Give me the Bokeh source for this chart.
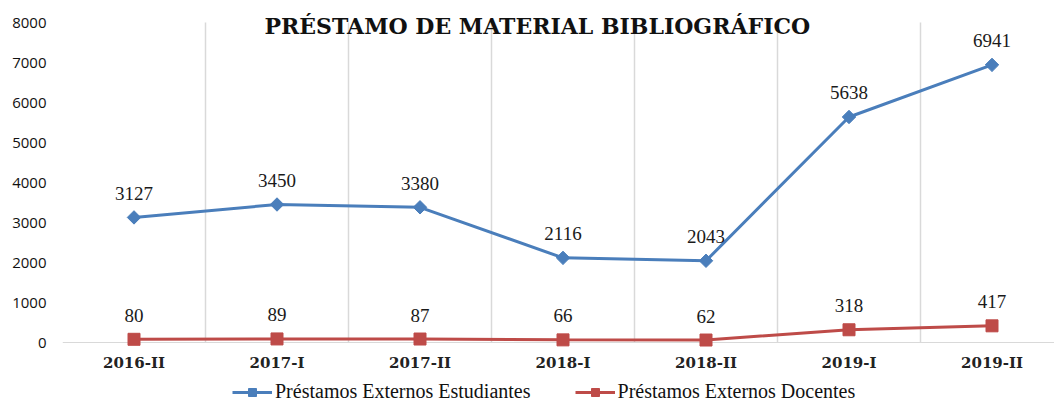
from bokeh.plotting import figure
from bokeh.models import (ColumnDataSource, Range1d, FixedTicker, Label, Legend,
                          LegendItem)
from bokeh.core.properties import value
from bokeh.embed import file_html
from bokeh.resources import INLINE
import numpy as np

categories = ["2016-II", "2017-I", "2017-II", "2018-I", "2018-II", "2019-I", "2019-II"]
estudiantes = [3127, 3450, 3380, 2116, 2043, 5638, 6941]
docentes = [80, 89, 87, 66, 62, 318, 417]
y_ticks = [0, 1000, 2000, 3000, 4000, 5000, 6000, 7000, 8000]
title_text = "PRÉSTAMO DE MATERIAL BIBLIOGRÁFICO"
series_names = ["Préstamos Externos Estudiantes", "Préstamos Externos Docentes"]

BLUE = "#4a7ebb"
RED = "#be4b48"
GRID = "#d9d9d9"

xpos = list(np.arange(len(categories)) + 0.5)

src_e = ColumnDataSource(dict(x=xpos, y=estudiantes, t=[str(v) for v in estudiantes]))
src_d = ColumnDataSource(dict(x=xpos, y=docentes, t=[str(v) for v in docentes]))
src_c = ColumnDataSource(dict(x=xpos, y=[y_ticks[0]] * len(categories), t=categories))

p = figure(width=1054, height=403, output_backend="svg", toolbar_location=None,
           x_range=Range1d(0, 6.937), y_range=Range1d(-1525, 8550),
           min_border_left=62, min_border_right=0, min_border_top=0,
           min_border_bottom=0)
p.outline_line_color = None
p.background_fill_color = "white"
p.border_fill_color = "white"

# x axis drawn as a baseline grid line plus category texts
p.xaxis.visible = False

p.yaxis.ticker = FixedTicker(ticks=y_ticks)
p.yaxis.major_tick_line_color = None
p.yaxis.minor_tick_line_color = None
p.yaxis.axis_line_color = None
p.yaxis.major_label_text_font = "Open Sans"
p.yaxis.major_label_text_font_size = "15px"
p.yaxis.major_label_text_color = "#111111"
p.yaxis.major_label_standoff = 10

p.ygrid.ticker = FixedTicker(ticks=[y_ticks[0]])
p.ygrid.grid_line_color = GRID
p.ygrid.grid_line_width = 1.2
p.xgrid.ticker = FixedTicker(ticks=list(range(len(categories) + 1)))
p.xgrid.grid_line_color = GRID
p.xgrid.grid_line_width = 1.5
p.xgrid.cross_bounds = (y_ticks[0], y_ticks[-1])

p.text("x", "y", text="t", source=src_c, text_align="center", text_baseline="middle",
       y_offset=20, text_font=value("DejaVu Serif"), text_font_style="bold",
       text_font_size="15px", text_color="#222222")

# series
l1 = p.line("x", "y", source=src_e, line_color=BLUE, line_width=3)
m1 = p.scatter("x", "y", source=src_e, marker="square", angle=np.pi / 4, size=9.5,
               fill_color=BLUE, line_color=BLUE)
l2 = p.line("x", "y", source=src_d, line_color=RED, line_width=3)
m2 = p.scatter("x", "y", source=src_d, marker="square", size=12,
               fill_color=RED, line_color=RED)

for s in (src_e, src_d):
    p.text("x", "y", text="t", source=s, text_align="center", text_baseline="middle",
           y_offset=-24, text_font=value("Liberation Serif"), text_font_size="19px",
           text_color="#1a1a1a")

p.add_layout(Label(x=3.32, y=7920, text=title_text, text_align="center",
                   text_baseline="middle", text_font="DejaVu Serif",
                   text_font_style="bold", text_font_size="22px", text_color="#111111"))

legend = Legend(items=[LegendItem(label=series_names[0], renderers=[l1, m1]),
                       LegendItem(label=series_names[1], renderers=[l2, m2])],
                orientation="horizontal", location=(170, 0),
                label_text_font="Liberation Serif", label_text_font_size="20px",
                label_text_color="#111111", glyph_width=40, label_standoff=3,
                spacing=44, padding=0, margin=0, border_line_color=None,
                background_fill_alpha=0)
p.add_layout(legend, "center")

open("out.html", "w").write(file_html(p, INLINE))
